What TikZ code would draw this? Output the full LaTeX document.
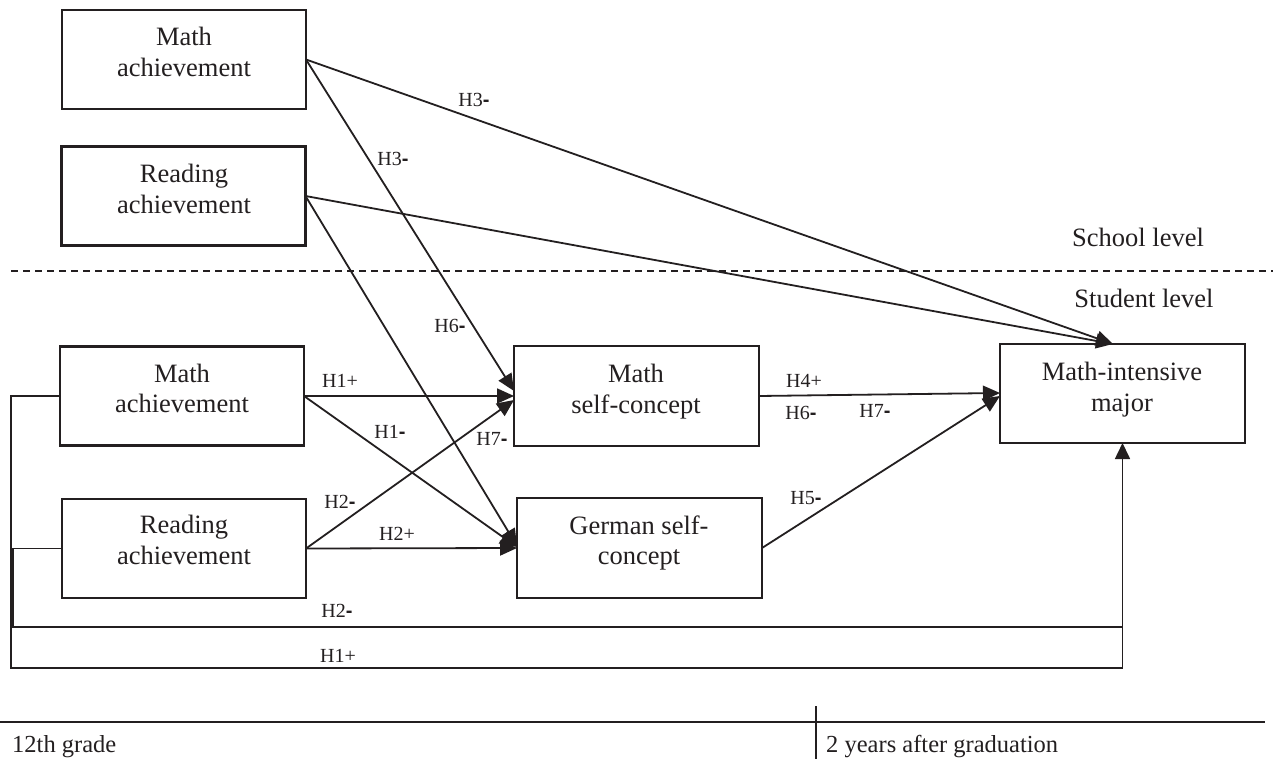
\documentclass[tikz,border=0pt]{standalone}
\usepackage{fontspec}
\setmainfont{Liberation Serif}
\setsansfont{Liberation Sans}
\usetikzlibrary{arrows.meta,calc}
\definecolor{ink}{HTML}{231F20}
\newcommand\hm{{\sffamily\bfseries -}}
\begin{document}
\begin{tikzpicture}[x=1pt,y=-1pt,
  box/.style={draw=ink, line width=2.5pt, minimum width=244pt, minimum height=99pt, inner sep=0pt, outer sep=0pt},
  btxt/.style={font=\fontsize{26.5}{31}\selectfont, inner sep=0pt, anchor=base, text=ink},
  lvl/.style={font=\fontsize{26.5}{31}\selectfont, inner sep=0pt, anchor=base, text=ink},
  ttxt/.style={font=\fontsize{24.5}{29}\selectfont, inner sep=0pt, anchor=base west, text=ink},
  lbl/.style={font=\fontsize{20}{24}\selectfont, inner sep=0pt, anchor=base, text=ink},
  arr/.style={draw=ink, line width=1.8pt, -{Triangle[length=17pt,width=15pt]}},
  loopline/.style={draw=ink, line width=1.6pt},
  sep/.style={draw=ink, line width=1.6pt, dash pattern=on 7pt off 5pt},
  rule/.style={draw=ink, line width=2pt}]
\fill[white] (0,0) rectangle (1273,759);
\useasboundingbox (0,0) rectangle (1273,759);

% boxes
\node[box] (tma) at (184,59.5) {};
\node[box] (tra) at (183.5,196) {};
\node[box] (sma) at (182,396) {};
\node[box] (sra) at (184,548.5) {};
\node[box, minimum width=245pt, minimum height=100pt] (msc) at (636.5,396) {};
\node[box, minimum width=245pt, minimum height=100pt] (gsc) at (639.5,548) {};
\node[box, minimum width=245pt] (mim) at (1122.5,393.5) {};

% box texts
\node[btxt] at (184,46) {Math};
\node[btxt] at (184,77) {achievement};
\node[btxt] at (184,183) {Reading};
\node[btxt] at (184,214) {achievement};
\node[btxt] at (182,382) {Math};
\node[btxt] at (182,412) {achievement};
\node[btxt] at (184,533) {Reading};
\node[btxt] at (184,564) {achievement};
\node[btxt] at (636,382) {Math};
\node[btxt] at (636,413) {self-concept};
\node[btxt] at (639,534) {German self-};
\node[btxt] at (639,564) {concept};
\node[btxt] at (1122,380) {Math-intensive};
\node[btxt] at (1122,411) {major};

% level separator
\draw[sep] (11,271) -- (1273,271);
\node[lvl] at (1138,247) {School level};
\node[lvl] at (1144,307) {Student level};

% connector end points
\coordinate (mimtop) at ($(mim.north)+(-9.5,0)$);
\coordinate (j2) at ($(mim.south)+(0,184)$);

% connectors
\draw[arr] (tma.east) -- (mimtop);
\draw[arr] (tma.east) -- ($(msc.west)+(0,-5)$);
\draw[arr] (tra.east) -- (mimtop);
\draw[arr] (tra.east) -- ($(gsc.west)+(0,-2)$);
\draw[arr] (sma.east) -- (msc.west);
\draw[arr] (sma.east) -- ($(gsc.west)+(0,-1)$);
\draw[arr] (sra.east) -- ($(msc.west)+(0,4)$);
\draw[arr] (sra.east) -- (gsc.west);
\draw[arr] (msc.east) -- ($(mim.west)+(0,-0.5)$);
\draw[arr] (gsc.east) -- ($(mim.west)+(0,2.5)$);

% loops
\draw[loopline] (sra.west) -- (13,548.5) -- (13,627) -- (j2);
\draw[loopline, -{Triangle[length=16pt,width=15pt]}] (sma.west) -- (11,396) -- (11,668) -| (mim.south);

% labels
\node[lbl] at (474,107) {H3\hm};
\node[lbl] at (393,166) {H3\hm};
\node[lbl] at (450,332) {H6\hm};
\node[lbl] at (340,387) {H1+};
\node[lbl] at (390,438) {H1\hm};
\node[lbl] at (492,445) {H7\hm};
\node[lbl] at (340,508) {H2\hm};
\node[lbl] at (397,540) {H2+};
\node[lbl] at (804,387) {H4+};
\node[lbl] at (801,419) {H6\hm};
\node[lbl] at (875,417) {H7\hm};
\node[lbl] at (806,504) {H5\hm};
\node[lbl] at (337,617) {H2\hm};
\node[lbl] at (338,662) {H1+};

% timeline
\draw[rule] (0,722) -- (1265,722);
\draw[draw=ink, line width=1.2pt] (816,706) -- (816,759);
\node[ttxt] at (12,752) {12th grade};
\node[ttxt] at (826,752) {2 years after graduation};
\end{tikzpicture}
\end{document}
